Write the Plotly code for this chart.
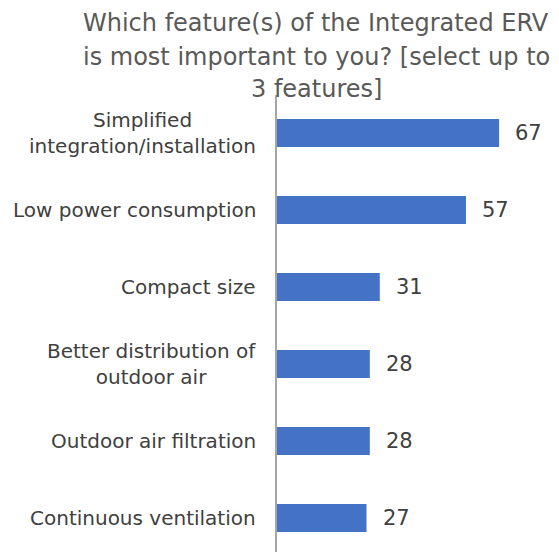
import plotly.graph_objects as go

categories = [
    "Simplified<br>integration/installation",
    "Low power consumption",
    "Compact size",
    "Better distribution of<br>outdoor air",
    "Outdoor air filtration",
    "Continuous ventilation",
]
values = [67, 57, 31, 28, 28, 27]
title_lines = [
    "Which feature(s) of the Integrated ERV",
    "is most important to you? [select up to",
    "3 features]",
]

W, H = 559, 552
ML, MT = 277, 95
FONT = "DejaVu Sans, Verdana, sans-serif"

fig = go.Figure(
    go.Bar(
        x=values,
        y=list(range(len(categories))),
        orientation="h",
        width=0.364,
        marker=dict(color="#4472C4", line=dict(width=0)),
        hoverinfo="skip",
    )
)

# category labels, centred line by line, right edge next to the axis
for i, c in enumerate(categories):
    fig.add_annotation(
        x=0, y=i, xref="paper", yref="y", text=c, showarrow=False,
        xanchor="right", yanchor="middle", align="center", xshift=-19,
        font=dict(family=FONT, size=20, color="#404040"),
    )

# value labels to the right of each bar
for i, v in enumerate(values):
    fig.add_annotation(
        x=v, y=i, xref="x", yref="y", text=str(v), showarrow=False,
        xanchor="left", yanchor="middle", xshift=14,
        font=dict(family=FONT, size=21, color="#404040"),
    )

# multi-line chart title
title_y = [23, 56.5, 89]
for line, ty in zip(title_lines, title_y):
    fig.add_annotation(
        x=(316 - ML) / (W - ML), y=1, xref="paper", yref="paper",
        yshift=MT - ty, text=line, showarrow=False,
        xanchor="center", yanchor="middle",
        font=dict(family=FONT, size=24, color="#595959"),
    )

fig.update_layout(
    width=W, height=H,
    margin=dict(l=ML, r=0, t=MT, b=0, pad=0),
    paper_bgcolor="white", plot_bgcolor="white",
    showlegend=False,
    xaxis=dict(range=[0, (W - ML) / 3.315], visible=False, fixedrange=True),
    yaxis=dict(
        range=[5.442, -0.494],
        showticklabels=False,
        ticks="", showgrid=False, zeroline=False,
        showline=True, linecolor="#A6A6A6", linewidth=2,
    ),
)

fig.write_html("out.html")
